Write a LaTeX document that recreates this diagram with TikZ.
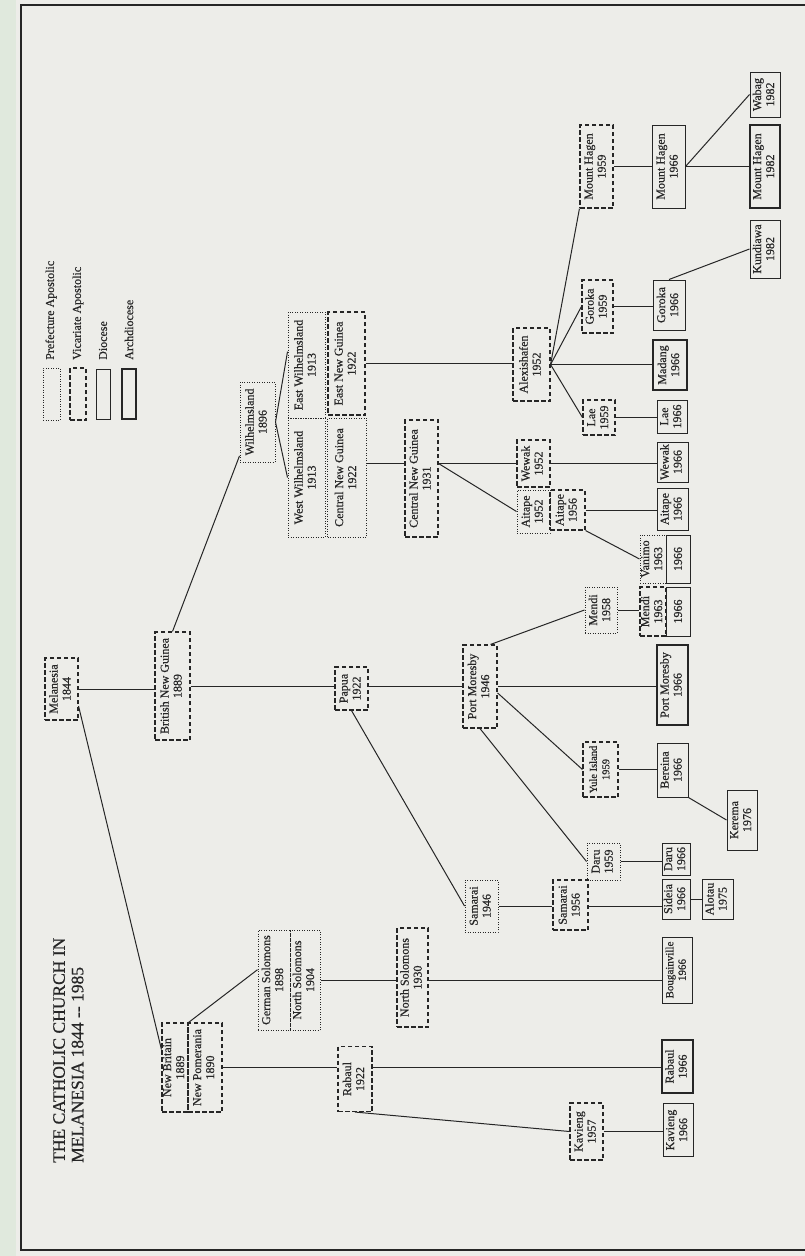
\documentclass[tikz,border=0pt]{standalone}
\usepackage{fontspec}
\setmainfont{Liberation Serif}
\newfontfamily\scanfont[FakeBold=0.5]{Liberation Serif}
\definecolor{Ink}{HTML}{262626}
\definecolor{Paper}{HTML}{EDEDE9}
\definecolor{Edge}{HTML}{E0E9DD}
\newcommand{\lbl}[2]{\rotatebox{90}{\begin{tabular}{@{}c@{}}#1\\#2\end{tabular}}}

\begin{document}
\begin{tikzpicture}[x=1pt,y=-1pt,
  box/.style={inner sep=0pt,text=Ink,font=\scanfont\fontsize{12}{13}\selectfont},
  sz/.style 2 args={minimum width=#1pt,minimum height=#2pt},
  pref/.style={box,draw=Ink,line width=1pt,dash pattern=on 1pt off 1.5pt},
  vic/.style={box,draw=Ink,line width=1.1pt,dash pattern=on 4.5pt off 2.5pt},
  dioc/.style={box,draw=Ink,line width=1pt},
  archd/.style={box,draw=Ink,line width=2.2pt},
  link/.style={draw=Ink,line width=1pt}]
\useasboundingbox (0,0) rectangle (805,1256);
\fill[Paper] (0,0) rectangle (805,1256);
\fill[Edge] (0,0) rectangle (16,1256);
\draw[Ink,line width=1.5pt] (805,5) -- (21,5) -- (21,1250) -- (805,1250);

% title and legend
\node[rotate=90,anchor=north west,align=left,inner sep=0pt,text=Ink,font=\scanfont\fontsize{17.5}{18.5}\selectfont] (title) at (53,1163) {THE CATHOLIC CHURCH IN\\MELANESIA 1844 -- 1985};
\node[pref,sz={17}{52}] (lgP) at (51.5,394) {};
\node[vic,sz={16}{52}] (lgV) at (78,394) {};
\node[dioc,sz={14}{50}] (lgD) at (103,394) {};
\node[archd,sz={14}{50}] (lgA) at (129,394) {};
\node[box,rotate=90,anchor=west] (tP) at (51,360) {Prefecture Apostolic};
\node[box,rotate=90,anchor=west] (tV) at (78,360) {Vicariate Apostolic};
\node[box,rotate=90,anchor=west] (tD) at (103,360) {Diocese};
\node[box,rotate=90,anchor=west] (tA) at (129,360) {Archdiocese};

% boxes
\node[vic,sz={33}{62}] (mel) at (61.5,689) {\lbl{Melanesia}{1844}};
\node[vic,sz={35}{108}] (bng) at (172.5,686) {\lbl{British New Guinea}{1889}};
\node[vic,sz={26}{89}] (nbr) at (175,1067.5) {\lbl{New Britain}{1889}};
\node[vic,sz={34}{89}] (npo) at (205,1067.5) {\lbl{New Pomerania}{1890}};
\node[pref,sz={32}{100}] (gso) at (274,980) {\lbl{German Solomons}{1898}};
\node[pref,sz={30}{100}] (nso) at (305,980) {\lbl{North Solomons}{1904}};
\node[vic,sz={31}{99}] (ns30) at (412.5,977.5) {\lbl{North Solomons}{1930}};
\node[dioc,sz={30}{66},font=\scanfont\fontsize{11}{12.5}\selectfont] (bou) at (677,970) {\lbl{Bougainville}{1966}};
\node[vic,sz={34}{65}] (rab22) at (355,1079) {\lbl{Rabaul}{1922}};
\node[archd,sz={31}{53}] (rab66) at (677.5,1066.5) {\lbl{Rabaul}{1966}};
\node[vic,sz={33}{57}] (kav57) at (586.5,1131.5) {\lbl{Kavieng}{1957}};
\node[dioc,sz={30}{53}] (kav66) at (678,1130) {\lbl{Kavieng}{1966}};
\node[vic,sz={33}{43}] (pap) at (351.5,688.5) {\lbl{Papua}{1922}};
\node[vic,sz={34}{83}] (pm46) at (480,686.5) {\lbl{Port Moresby}{1946}};
\node[archd,sz={31}{80}] (pm66) at (672.5,685) {\lbl{Port Moresby}{1966}};
\node[pref,sz={32}{46}] (men58) at (601,610) {\lbl{Mendi}{1958}};
\node[vic,sz={26}{49}] (men63) at (653,611.5) {\lbl{Mendi}{1963}};
\node[dioc,sz={24}{49}] (men66) at (678,611.5) {\rotatebox{90}{1966}};
\node[pref,sz={26}{48}] (van63) at (653,559) {\lbl{Vanimo}{1963}};
\node[dioc,sz={24}{48}] (van66) at (678,559) {\rotatebox{90}{1966}};
\node[dioc,sz={31}{42}] (ait66) at (672.5,509) {\lbl{Aitape}{1966}};
\node[dioc,sz={31}{40}] (wew66) at (672.5,462) {\lbl{Wewak}{1966}};
\node[dioc,sz={30}{33}] (lae66) at (672,416.5) {\lbl{Lae}{1966}};
\node[vic,sz={32}{35}] (lae59) at (599,417.5) {\lbl{Lae}{1959}};
\node[archd,sz={34}{50}] (mad66) at (670,365) {\lbl{Madang}{1966}};
\node[dioc,sz={32}{50}] (gor66) at (669,305) {\lbl{Goroka}{1966}};
\node[vic,sz={31}{53}] (gor59) at (597.5,306.5) {\lbl{Goroka}{1959}};
\node[vic,sz={33}{83}] (mh59) at (596.5,166.5) {\lbl{Mount Hagen}{1959}};
\node[dioc,sz={33}{83}] (mh66) at (668.5,166.5) {\lbl{Mount Hagen}{1966}};
\node[archd,sz={30}{83}] (mh82) at (765,166.5) {\lbl{Mount Hagen}{1982}};
\node[dioc,sz={30}{45}] (wab) at (765,94.5) {\lbl{Wabag}{1982}};
\node[dioc,sz={30}{58}] (kun) at (765,249) {\lbl{Kundiawa}{1982}};
\node[vic,sz={37}{73}] (alx) at (531.5,364.5) {\lbl{Alexishafen}{1952}};
\node[vic,sz={33}{47}] (wew52) at (533.5,463.5) {\lbl{Wewak}{1952}};
\node[pref,sz={33}{43}] (ait52) at (533.5,511.5) {\lbl{Aitape}{1952}};
\node[vic,sz={35}{40}] (ait56) at (567.5,510) {\lbl{Aitape}{1956}};
\node[vic,sz={33}{117}] (cng31) at (421.5,478.5) {\lbl{Central New Guinea}{1931}};
\node[pref,sz={37}{106}] (ewl) at (306.5,365) {\lbl{East Wilhelmsland}{1913}};
\node[pref,sz={37}{119}] (wwl) at (306.5,477.5) {\lbl{West Wilhelmsland}{1913}};
\node[vic,sz={37}{103}] (eng) at (346.5,363.5) {\lbl{East New Guinea}{1922}};
\node[pref,sz={39}{119}] (cng22) at (347,477.5) {\lbl{Central New Guinea}{1922}};
\node[pref,sz={35}{80}] (wil) at (257.5,422) {\lbl{Wilhelmsland}{1896}};
\node[pref,sz={33}{52}] (sam46) at (481.5,906) {\lbl{Samarai}{1946}};
\node[vic,sz={35}{50}] (sam56) at (570.5,905) {\lbl{Samarai}{1956}};
\node[dioc,sz={28}{40}] (sid) at (676,899) {\lbl{Sideia}{1966}};
\node[dioc,sz={31}{40}] (alo) at (717.5,899) {\lbl{Alotau}{1975}};
\node[pref,sz={33}{37}] (dar59) at (603.5,861.5) {\lbl{Daru}{1959}};
\node[dioc,sz={28}{32}] (dar66) at (676,859) {\lbl{Daru}{1966}};
\node[vic,sz={35}{55},font=\scanfont\fontsize{10.5}{12.5}\selectfont] (yul) at (600.5,769.5) {\lbl{Yule Island}{1959}};
\node[dioc,sz={31}{54}] (ber) at (672.5,770) {\lbl{Bereina}{1966}};
\node[dioc,sz={30}{60}] (ker) at (742,820) {\lbl{Kerema}{1976}};

% straight links, level with the third node
\foreach \p/\q/\r in {mel/bng/mel,bng/pap/bng,pap/pm46/bng,pm46/pm66/bng,
    npo/rab22/npo,rab22/rab66/npo,kav57/kav66/kav57,nso/ns30/nso,ns30/bou/nso,
    sam46/sam56/sam46,sam56/sid/sam46,sid/alo/sid,dar59/dar66/dar59,yul/ber/yul,
    men58/men63/men58,eng/alx/eng,cng22/cng31/wew52,cng31/wew52/wew52,
    wew52/wew66/wew52,ait56/ait66/ait56,mh59/mh66/mh59,mh66/mh82/mh59,
    gor59/gor66/gor59,lae59/lae66/lae59,alx/mad66/alx}
  {\draw[link] (\p.east |- \r) -- (\q.west |- \r);}

% slanting links
\draw[link] (mel.-45) -- (nbr.127);
\draw[link] (nbr.north east) -- (gso.148);
\draw[link] (rab22.south) -- (kav57.west);
\draw[link] (pap.south) -- (sam46.west);
\draw[link] (pm46.76) -- (men58.west);
\draw[link] (pm46.-20) -- (yul.west);
\draw[link] (pm46.south) -- (dar59.west);
\draw[link] (ber.south east) -- (ker.west);
\draw[link] (bng.north) -- (wil.242);
\draw[link] (wil.east) -- (ewl.145);
\draw[link] (wil.east) -- (wwl.west);
\draw[link] (cng31.east |- wew52) -- (ait52.west);
\draw[link] (ait56.south east) -- (van63.west);
\foreach \q/\a in {mh59/south west,gor59/west,lae59/west}
  {\draw[link] (alx.east) -- (\q.\a);}
\draw[link] (mh66.east) -- (wab.west);
\draw[link] (gor66.north) -- (kun.west);
\end{tikzpicture}
\end{document}
